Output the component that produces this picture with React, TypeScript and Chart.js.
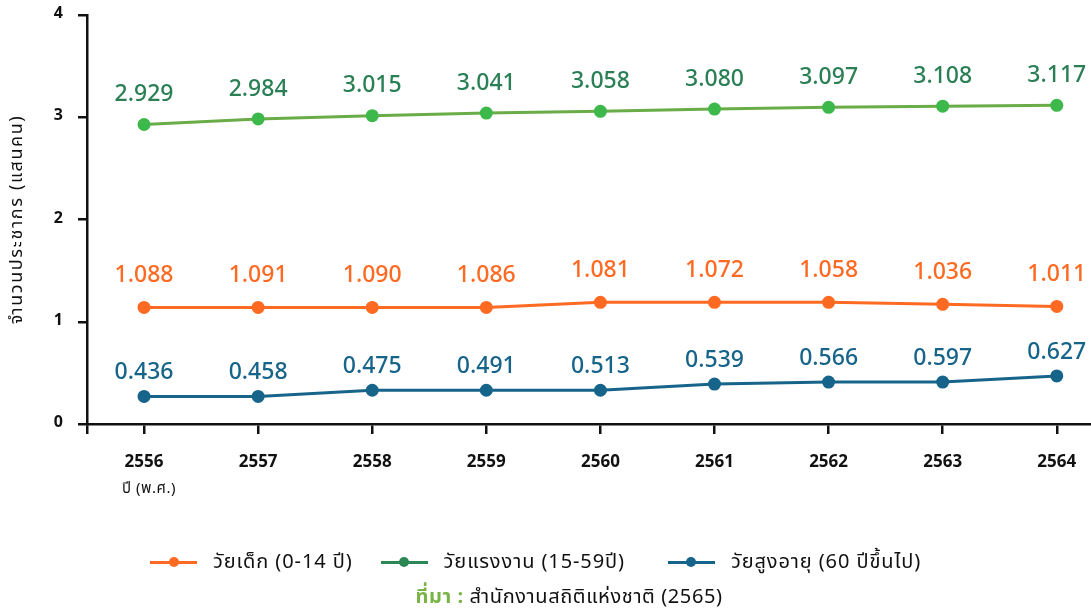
import React, { useEffect, useRef } from "react";
import { Chart, registerables } from "chart.js";

Chart.register(...registerables);

const years = ["2556", "2557", "2558", "2559", "2560", "2561", "2562", "2563", "2564"];
const seriesNames = ["วัยเด็ก (0-14 ปี)", "วัยแรงงาน (15-59ปี)", "วัยสูงอายุ (60 ปีขึ้นไป)"];
// plotted positions (as drawn in the reference)
const childValues = [1.14, 1.14, 1.14, 1.14, 1.19, 1.19, 1.19, 1.17, 1.15];
const workingValues = [2.929, 2.984, 3.015, 3.041, 3.058, 3.08, 3.097, 3.108, 3.117];
const elderlyValues = [0.27, 0.27, 0.33, 0.33, 0.33, 0.39, 0.41, 0.41, 0.47];
// printed labels
const childLabels = ["1.088", "1.091", "1.090", "1.086", "1.081", "1.072", "1.058", "1.036", "1.011"];
const workingLabels = ["2.929", "2.984", "3.015", "3.041", "3.058", "3.080", "3.097", "3.108", "3.117"];
const elderlyLabels = ["0.436", "0.458", "0.475", "0.491", "0.513", "0.539", "0.566", "0.597", "0.627"];
const yTicks = [0, 1, 2, 3, 4];
const yTitle = "จำนวนประชากร (แสนคน)";
const xTitle = "ปี (พ.ศ.)";
const sourceLabel = "ที่มา :";
const sourceText = " สำนักงานสถิติแห่งชาติ (2565)";

const FONT = "'Noto Sans Thai', 'Noto Sans', 'Open Sans', sans-serif";
const ORANGE = "#ff6a22";
const GREEN_LINE = "#6aac48";
const GREEN_POINT = "#3cb94a";
const GREEN_TEXT = "#2a7f55";
const GREEN_LEGEND = "#2b8754";
const BLUE = "#17648a";

const labelSets = [childLabels, workingLabels, elderlyLabels];
const labelColors = [ORANGE, GREEN_TEXT, BLUE];
const labelOffsets = [30, 28, 22];

const dataLabelPlugin = {
  id: "dataLabels",
  afterDatasetsDraw(chart: any) {
    const ctx = chart.ctx;
    ctx.save();
    ctx.font = `500 23px ${FONT}`;
    ctx.textAlign = "center";
    ctx.textBaseline = "middle";
    chart.data.datasets.forEach((_ds: any, i: number) => {
      const meta = chart.getDatasetMeta(i);
      ctx.fillStyle = labelColors[i];
      meta.data.forEach((pt: any, j: number) => {
        ctx.fillText(labelSets[i][j], pt.x, pt.y - labelOffsets[i]);
      });
    });
    ctx.restore();
  },
};

const titlesPlugin = {
  id: "extraTitles",
  afterDraw(chart: any) {
    const ctx = chart.ctx;
    const xs = chart.scales.x;
    const area = chart.chartArea;
    ctx.save();
    // x title under the first category
    ctx.font = `400 15px ${FONT}`;
    ctx.fillStyle = "#111";
    ctx.textAlign = "center";
    ctx.textBaseline = "middle";
    try { (ctx as any).letterSpacing = "0.5px"; } catch (e) {}
    ctx.fillText(xTitle, xs.getPixelForValue(Number(years[0])) + 5, area.bottom + 66);
    // rotated y title
    ctx.font = `400 18px ${FONT}`;
    try { (ctx as any).letterSpacing = "1.6px"; } catch (e) {}
    ctx.translate(18, (area.top + area.bottom) / 2);
    ctx.rotate(-Math.PI / 2);
    ctx.fillText(yTitle, 0, 0);
    ctx.restore();
  },
};

function App() {
  const ref = useRef<HTMLCanvasElement | null>(null);

  useEffect(() => {
    if (!ref.current) return;
    const toPts = (vals: number[]) => vals.map((v, i) => ({ x: Number(years[i]), y: v }));
    const common = { pointBorderWidth: 0, pointRadius: 6.5, borderWidth: 3, tension: 0 };
    const chart = new Chart(ref.current, {
      type: "line",
      data: {
        datasets: [
          {
            label: seriesNames[0],
            data: toPts(childValues),
            borderColor: ORANGE,
            backgroundColor: ORANGE,
            pointBackgroundColor: ORANGE,
            ...common,
          },
          {
            label: seriesNames[1],
            data: toPts(workingValues),
            borderColor: GREEN_LINE,
            backgroundColor: GREEN_POINT,
            pointBackgroundColor: GREEN_POINT,
            ...common,
          },
          {
            label: seriesNames[2],
            data: toPts(elderlyValues),
            borderColor: BLUE,
            backgroundColor: BLUE,
            pointBackgroundColor: BLUE,
            ...common,
          },
        ],
      },
      options: {
        animation: false,
        responsive: false,
        maintainAspectRatio: false,
        layout: { autoPadding: false, padding: { top: 15, left: 0, right: 0, bottom: 0 } },
        plugins: {
          legend: { display: false },
          tooltip: { enabled: false },
          title: { display: false },
        },
        scales: {
          x: {
            type: "linear",
            min: 2555.5,
            max: 2564.3,
            afterBuildTicks: (scale: any) => {
              scale.ticks = [2555.5, ...years.map(Number)].map((v) => ({ value: v }));
            },
            afterFit: (scale: any) => {
              scale.height = 185;
              scale.paddingLeft = 0;
              scale.paddingRight = 0;
            },
            grid: {
              drawOnChartArea: false,
              drawTicks: true,
              tickLength: 10,
              color: "#111",
              lineWidth: 2.5,
            },
            border: { display: true, color: "#111", width: 2.5 },
            ticks: {
              autoSkip: false,
              maxRotation: 0,
              padding: 19,
              color: "#111",
              font: { family: FONT, size: 17, weight: "bold" },
              callback: (v: any) => (Number.isInteger(v) ? String(v) : ""),
            },
          },
          y: {
            min: 0,
            max: 4,
            afterBuildTicks: (scale: any) => {
              scale.ticks = yTicks.map((v) => ({ value: v }));
            },
            afterFit: (scale: any) => {
              scale.width = 87;
              scale.paddingTop = 0;
              scale.paddingBottom = 0;
            },
            grid: {
              drawOnChartArea: false,
              drawTicks: true,
              tickLength: 9,
              color: "#111",
              lineWidth: 2.5,
            },
            border: { display: true, color: "#111", width: 2.5 },
            ticks: {
              padding: 15,
              color: "#111",
              font: { family: FONT, size: 16, weight: "bold" },
              callback: (v: any) => String(v),
            },
          },
        },
      },
      plugins: [dataLabelPlugin, titlesPlugin],
    } as any);
    return () => chart.destroy();
  }, []);

  const legendColors = [ORANGE, GREEN_LEGEND, BLUE];
  const legendGaps = [28, 43, 0];

  return (
    <div
      style={{
        position: "fixed",
        left: 0,
        top: 0,
        width: 1091,
        height: 609,
        overflow: "hidden",
        background: "#fff",
        fontFamily: FONT,
      }}
    >
      <canvas ref={ref} width={1091} height={609} style={{ display: "block", width: 1091, height: 609 }} />
      <div
        style={{
          position: "absolute",
          left: 150,
          top: 547,
          display: "flex",
          alignItems: "center",
          fontSize: 20,
          letterSpacing: "0.9px",
          color: "#111",
          lineHeight: "30px",
          whiteSpace: "nowrap",
        }}
      >
        {seriesNames.map((n, i) => (
          <div key={n} style={{ display: "flex", alignItems: "center", marginRight: legendGaps[i] }}>
            <span style={{ position: "relative", display: "inline-block", width: 47, height: 12, marginRight: 16 }}>
              <span
                style={{
                  position: "absolute",
                  left: 0,
                  right: 0,
                  top: 4.5,
                  height: 3,
                  background: legendColors[i],
                }}
              />
              <span
                style={{
                  position: "absolute",
                  left: 18.5,
                  top: 1,
                  width: 10,
                  height: 10,
                  borderRadius: "50%",
                  background: legendColors[i],
                }}
              />
            </span>
            <span>{n}</span>
          </div>
        ))}
      </div>
      <div
        style={{
          position: "absolute",
          left: 0,
          top: 583,
          width: 1138,
          textAlign: "center",
          fontSize: 20,
          letterSpacing: "0.6px",
          color: "#111",
          lineHeight: "28px",
          whiteSpace: "pre",
        }}
      >
        <span style={{ color: "#78b443", fontWeight: "bold" }}>{sourceLabel}</span>
        <span>{sourceText}</span>
      </div>
    </div>
  );
}

export default App;
